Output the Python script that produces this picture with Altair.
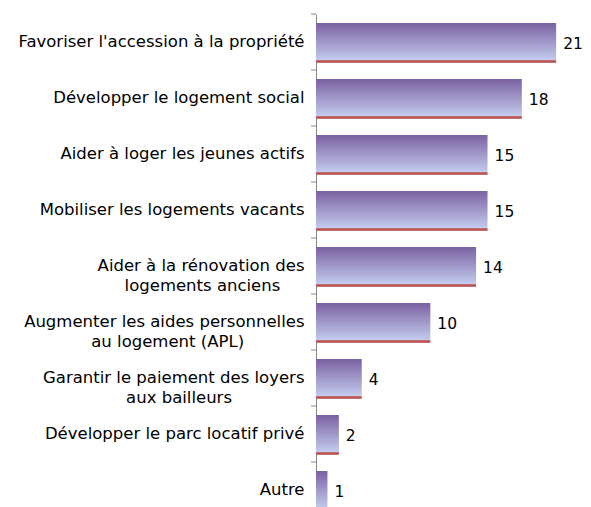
import altair as alt
import pandas as pd

PAD = "\u2800"
categories = [
    "Favoriser l'accession à la propriété",
    "Développer le logement social",
    "Aider à loger les jeunes actifs",
    "Mobiliser les logements vacants",
    "Aider à la rénovation des|logements anciens" + PAD * 2,
    "Augmenter les aides personnelles|au logement (APL)" + PAD * 5,
    "Garantir le paiement des loyers|aux bailleurs" + PAD * 6,
    "Développer le parc locatif privé",
    "Autre",
]
values = [21, 18, 15, 15, 14, 10, 4, 2, 1]

df = pd.DataFrame({"cat": categories, "val": values})

FONT = "DejaVu Sans"
grad = alt.Gradient(
    gradient="linear",
    stops=[alt.GradientStop(color="#7b61a3", offset=0),
           alt.GradientStop(color="#c8d4f2", offset=1)],
    x1=0, x2=0, y1=0, y2=1,
)

yscale = alt.Scale(paddingInner=0, paddingOuter=0)
y_enc = alt.Y("cat:N", sort=categories, scale=yscale,
              axis=alt.Axis(title=None, ticks=False, tickSize=0, labelPadding=12,
                            labelFont=FONT, labelFontSize=16.5, labelColor="#000000",
                            labelExpr="split(datum.label, '|')", labelLineHeight=20,
                            labelLimit=400,
                            domainColor="#868686", grid=False))
y_plain = alt.Y("cat:N", sort=categories)
xscale = alt.Scale(domain=[0, 23], nice=False, zero=True)
x_enc = alt.X("val:Q", scale=xscale, axis=None)

base = alt.Chart(df)

bars = base.mark_bar(fill=grad, size=40, yOffset=1).encode(x=x_enc, y=y_enc)
red = base.transform_calculate(zero="0").mark_rule(
    color="#c0504d", strokeWidth=2.5, yOffset=19.5).encode(
    x=alt.X("zero:Q", scale=xscale, axis=None), x2="val:Q", y=y_plain)
texts = base.mark_text(align="left", baseline="middle", dx=7, dy=2, font=FONT,
                       fontSize=15.5, color="#000000").encode(
    x=x_enc, y=y_plain, text="val:Q")
ticks = base.mark_rule(color="#868686", strokeWidth=1, yOffset=-28).encode(
    x=alt.value(-5), x2=alt.value(0), y=y_plain)

chart = alt.layer(bars, red, texts, ticks).properties(
    width=263, height=504,
    autosize=alt.AutoSizeParams(type="none"),
    padding={"left": 308, "top": 6, "right": 4, "bottom": 0},
).configure_view(stroke=None)

chart.save("out.html", embed_options={"renderer": "svg", "actions": False})
